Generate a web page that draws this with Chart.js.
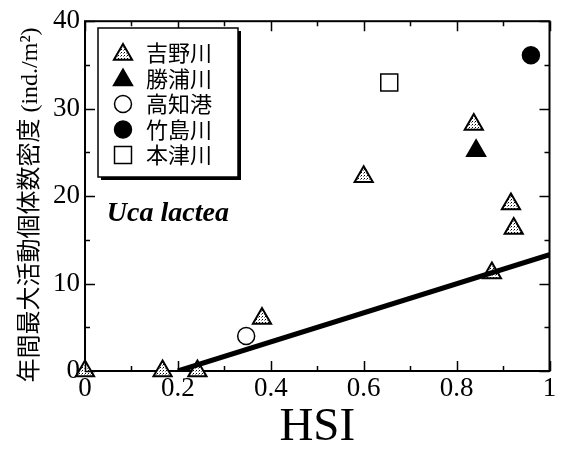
<!DOCTYPE html>
<html>
<head>
<meta charset="utf-8">
<script src="https://cdn.jsdelivr.net/npm/chart.js@4/dist/chart.umd.min.js"></script>
<style>
  html, body { margin: 0; padding: 0; background: #fff; }
  canvas { display: block; }
</style>
</head>
<body>
<canvas id="c" width="563" height="451"></canvas>
<script>
// Series names (legend order)
const seriesNames = ['吉野川', '勝浦川', '高知港', '竹島川', '本津川'];

// HSI (x) and maximum annual active density (y, ind./m²) per site
const yoshinoX   = [0, 0.167, 0.242, 0.381, 0.600, 0.837, 0.917, 0.923, 0.876];
const yoshinoY   = [0, 0,     0,     6.0,   22.2,  28.2,  19.1,  16.3,  11.2];
const katsuuraX  = [0.842];
const katsuuraY  = [25.2];
const kochiX     = [0.347];
const kochiY     = [4.0];
const takeshimaX = [0.960];
const takeshimaY = [36.1];
const motozuX    = [0.655];
const motozuY    = [33.0];

// Regression line end points
const fitX = [0.2, 1.0];
const fitY = [0, 13.3];

// Axis ticks
const xTicks = [0, 0.2, 0.4, 0.6, 0.8, 1];
const yTicks = [0, 10, 20, 30, 40];
const xMinor = [0.1, 0.3, 0.5, 0.7, 0.9];
const yMinor = [5, 15, 25, 35];

const speciesName = 'Uca lactea';
const xTitle = 'HSI';
const yTitle = '年間最大活動個体数密度 (ind./m²)';

const pts = (xs, ys) => xs.map((x, i) => ({ x: x, y: ys[i] }));

// Stippled fill used for the 吉野川 triangles
function makeDots() {
  const c = document.createElement('canvas');
  c.width = 3; c.height = 3;
  const g = c.getContext('2d');
  g.fillStyle = '#fff';
  g.fillRect(0, 0, 3, 3);
  g.fillStyle = '#000';
  g.fillRect(1, 1, 1, 1);
  g.fillStyle = '#888';
  g.fillRect(0, 2, 1, 1);
  return document.getElementById('c').getContext('2d').createPattern(c, 'repeat');
}
const dots = makeDots();

const markerDefs = [
  { style: 'triangle', radius: 10.5, fill: dots,   border: 2 },
  { style: 'triangle', radius: 10.5, fill: '#000', border: 2 },
  { style: 'circle',   radius: 8.5,  fill: '#fff', border: 1.5 },
  { style: 'circle',   radius: 8.5,  fill: '#000', border: 1.5 },
  { style: 'rect',     radius: 12,   fill: '#fff', border: 1.5 }
];

const seriesData = [
  pts(yoshinoX, yoshinoY),
  pts(katsuuraX, katsuuraY),
  pts(kochiX, kochiY),
  pts(takeshimaX, takeshimaY),
  pts(motozuX, motozuY)
];

const datasets = seriesData.map((d, i) => ({
  label: seriesNames[i],
  data: d,
  showLine: false,
  clip: false,
  pointStyle: markerDefs[i].style,
  pointRadius: markerDefs[i].radius,
  pointBackgroundColor: markerDefs[i].fill,
  pointBorderColor: '#000',
  pointBorderWidth: markerDefs[i].border
}));
datasets.push({
  label: 'fit',
  data: pts(fitX, fitY),
  showLine: true,
  borderColor: '#000',
  borderWidth: 5,
  pointRadius: 0,
  order: -1
});

function drawMarker(ctx, def, x, y) {
  ctx.save();
  ctx.fillStyle = def.fill;
  ctx.strokeStyle = '#000';
  ctx.lineWidth = def.border;
  ctx.beginPath();
  const r = def.radius;
  if (def.style === 'triangle') {
    let a = 0;
    ctx.moveTo(x + Math.sin(a) * r, y - Math.cos(a) * r);
    a += 2 * Math.PI / 3;
    ctx.lineTo(x + Math.sin(a) * r, y - Math.cos(a) * r);
    a += 2 * Math.PI / 3;
    ctx.lineTo(x + Math.sin(a) * r, y - Math.cos(a) * r);
    ctx.closePath();
  } else if (def.style === 'circle') {
    ctx.arc(x, y, r, 0, Math.PI * 2);
  } else {
    const s = Math.SQRT1_2 * r;
    ctx.rect(x - s, y - s, 2 * s, 2 * s);
  }
  ctx.fill();
  ctx.stroke();
  ctx.restore();
}

// Frame, inward ticks, legend box, axis title and species label
const decorations = {
  id: 'decorations',
  beforeDatasetsDraw(chart) {
    const { ctx, chartArea: a } = chart;
    ctx.save();
    ctx.strokeStyle = '#000';
    ctx.lineWidth = 2;
    ctx.strokeRect(a.left, a.top, a.right - a.left, a.bottom - a.top);
    ctx.restore();
  },
  afterDatasetsDraw(chart) {
    const { ctx, chartArea: a, scales: { x, y } } = chart;
    ctx.save();
    ctx.strokeStyle = '#000';
    ctx.lineWidth = 1.5;
    ctx.beginPath();
    const hTick = (v, len) => {
      const px = Math.round(x.getPixelForValue(v)) + 0.5;
      ctx.moveTo(px, a.bottom); ctx.lineTo(px, a.bottom - len);
      ctx.moveTo(px, a.top);    ctx.lineTo(px, a.top + len);
    };
    const vTick = (v, len) => {
      const py = Math.round(y.getPixelForValue(v)) + 0.5;
      ctx.moveTo(a.left, py);  ctx.lineTo(a.left + len, py);
      ctx.moveTo(a.right, py); ctx.lineTo(a.right - len, py);
    };
    xTicks.forEach(v => hTick(v, 10));
    xMinor.forEach(v => hTick(v, 5));
    yTicks.forEach(v => vTick(v, 10));
    yMinor.forEach(v => vTick(v, 5));
    ctx.stroke();

    // legend box with drop shadow
    const bx = 98, by = 28, bw = 140, bh = 149;
    ctx.fillStyle = '#000';
    ctx.fillRect(bx + 3, by + 3, bw, bh);
    ctx.fillStyle = '#fff';
    ctx.fillRect(bx, by, bw, bh);
    ctx.lineWidth = 1.5;
    ctx.strokeRect(bx, by, bw, bh);

    ctx.font = '22px "Noto Sans CJK JP", sans-serif';
    ctx.textBaseline = 'middle';
    ctx.textAlign = 'left';
    seriesNames.forEach((name, i) => {
      const ry = by + 25 + i * 25.5;
      drawMarker(ctx, markerDefs[i], 123, ry + (markerDefs[i].style === 'triangle' ? 1.5 : 0));
      ctx.fillStyle = '#000';
      ctx.fillText(name, 146, ry);
    });

    // species label
    ctx.font = 'bold italic 28px "Liberation Serif", serif';
    ctx.fillStyle = '#000';
    ctx.textBaseline = 'middle';
    ctx.fillText(speciesName, x.getPixelForValue(0.047), y.getPixelForValue(18.0));

    // vertical axis title
    ctx.translate(31, 205);
    ctx.rotate(-Math.PI / 2);
    ctx.font = '24px "Liberation Serif", "Noto Sans CJK JP", serif';
    ctx.textAlign = 'center';
    ctx.textBaseline = 'middle';
    ctx.fillText(yTitle, 0, 0);
    ctx.restore();
  }
};

new Chart(document.getElementById('c'), {
  type: 'scatter',
  data: { datasets: datasets },
  options: {
    responsive: false,
    devicePixelRatio: 1,
    animation: false,
    events: [],
    layout: { padding: { left: 0, top: 20, right: 11, bottom: 0 } },
    plugins: { legend: { display: false }, tooltip: { enabled: false } },
    scales: {
      x: {
        type: 'linear',
        min: 0, max: 1,
        afterBuildTicks: s => { s.ticks = xTicks.map(v => ({ value: v })); },
        afterFit: s => { s.height = 80; },
        grid: { display: false, drawTicks: false },
        border: { display: false },
        ticks: {
          padding: 2,
          color: '#000',
          font: { family: '"Liberation Serif", serif', size: 27 },
          callback: v => String(v)
        },
        title: {
          display: true,
          text: xTitle,
          color: '#000',
          font: { family: '"Liberation Serif", serif', size: 47, lineHeight: 1 },
          padding: { top: 0, bottom: 0 }
        }
      },
      y: {
        type: 'linear',
        min: 0, max: 40,
        afterBuildTicks: s => { s.ticks = yTicks.map(v => ({ value: v })); },
        afterFit: s => { s.width = 85; },
        grid: { display: false, drawTicks: false },
        border: { display: false },
        ticks: {
          padding: 5,
          color: '#000',
          font: { family: '"Liberation Serif", serif', size: 27 },
          callback: v => String(v)
        },
        title: { display: false }
      }
    }
  },
  plugins: [decorations]
});
</script>
</body>
</html>
